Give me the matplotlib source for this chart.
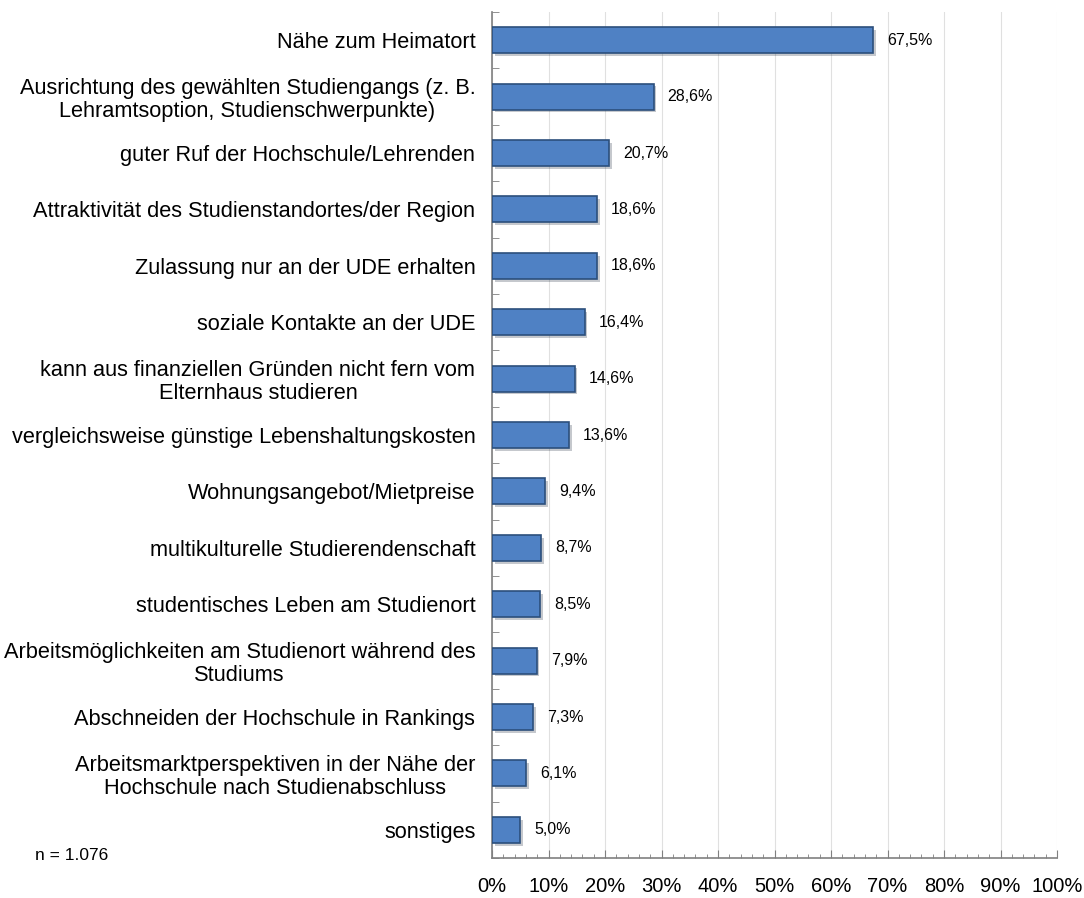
import matplotlib.pyplot as plt
import matplotlib.patheffects as pe
import numpy as np

plt.rcParams['font.family'] = ['Liberation Sans', 'DejaVu Sans']

kategorien = [
    "Nähe zum Heimatort",
    "Ausrichtung des gewählten Studiengangs (z. B.\nLehramtsoption, Studienschwerpunkte)",
    "guter Ruf der Hochschule/Lehrenden",
    "Attraktivität des Studienstandortes/der Region",
    "Zulassung nur an der UDE erhalten",
    "soziale Kontakte an der UDE",
    "kann aus finanziellen Gründen nicht fern vom\nElternhaus studieren",
    "vergleichsweise günstige Lebenshaltungskosten",
    "Wohnungsangebot/Mietpreise",
    "multikulturelle Studierendenschaft",
    "studentisches Leben am Studienort",
    "Arbeitsmöglichkeiten am Studienort während des\nStudiums",
    "Abschneiden der Hochschule in Rankings",
    "Arbeitsmarktperspektiven in der Nähe der\nHochschule nach Studienabschluss",
    "sonstiges",
]
werte = [67.5, 28.6, 20.7, 18.6, 18.6, 16.4, 14.6, 13.6, 9.4, 8.7, 8.5, 7.9, 7.3, 6.1, 5.0]
x_ticks = list(range(0, 101, 10))

fig = plt.figure(figsize=(10.84, 8.98), dpi=100)
ax = fig.add_axes([0.4539, 0.0445, 0.5212, 0.9421])

y = np.arange(len(kategorien))
bars = ax.barh(y, werte, height=0.46, color='#4f81c4', edgecolor='#2c4f7c',
               linewidth=1.2, zorder=3)
for b in bars:
    b.set_path_effects([pe.SimplePatchShadow(offset=(2, -2), alpha=0.25), pe.Normal()])

for yi, v in zip(y, werte):
    ax.text(v + 2.5, yi, f"{v:.1f}%".replace('.', ','), va='center', ha='left',
            fontsize=11.5, color='black')

ax.set_xlim(0, 100)
ax.set_ylim(len(kategorien) - 0.5, -0.5)
ax.set_xticks(x_ticks)
ax.set_xticklabels([f"{t}%" for t in x_ticks], fontsize=14.5)
ax.set_xticks(np.arange(0, 101, 2), minor=True)
ax.set_yticks(y)
ax.set_yticklabels(kategorien, fontsize=15.7, multialignment='center', linespacing=1.1)
ax.set_yticks(np.arange(-0.5, len(kategorien), 1), minor=True)

ax.tick_params(axis='x', which='major', direction='in', length=6, color='#808080', pad=14)
ax.tick_params(axis='x', which='minor', direction='in', length=3, color='#808080')
ax.tick_params(axis='y', which='major', direction='in', length=2, color='#808080', pad=12)
ax.tick_params(axis='y', which='minor', direction='in', length=5, color='#808080')

ax.grid(axis='x', color='#e0e0e0', linewidth=0.8, zorder=0)
ax.set_axisbelow(True)
for s in ['top', 'right']:
    ax.spines[s].set_visible(False)
for s in ['left', 'bottom']:
    ax.spines[s].set_color('#808080')
    ax.spines[s].set_linewidth(1.2)

fig.text(35 / 1084, 1 - 855 / 898, "n = 1.076", fontsize=12.5, va='center', ha='left')

fig.savefig("out.png", dpi=100)
